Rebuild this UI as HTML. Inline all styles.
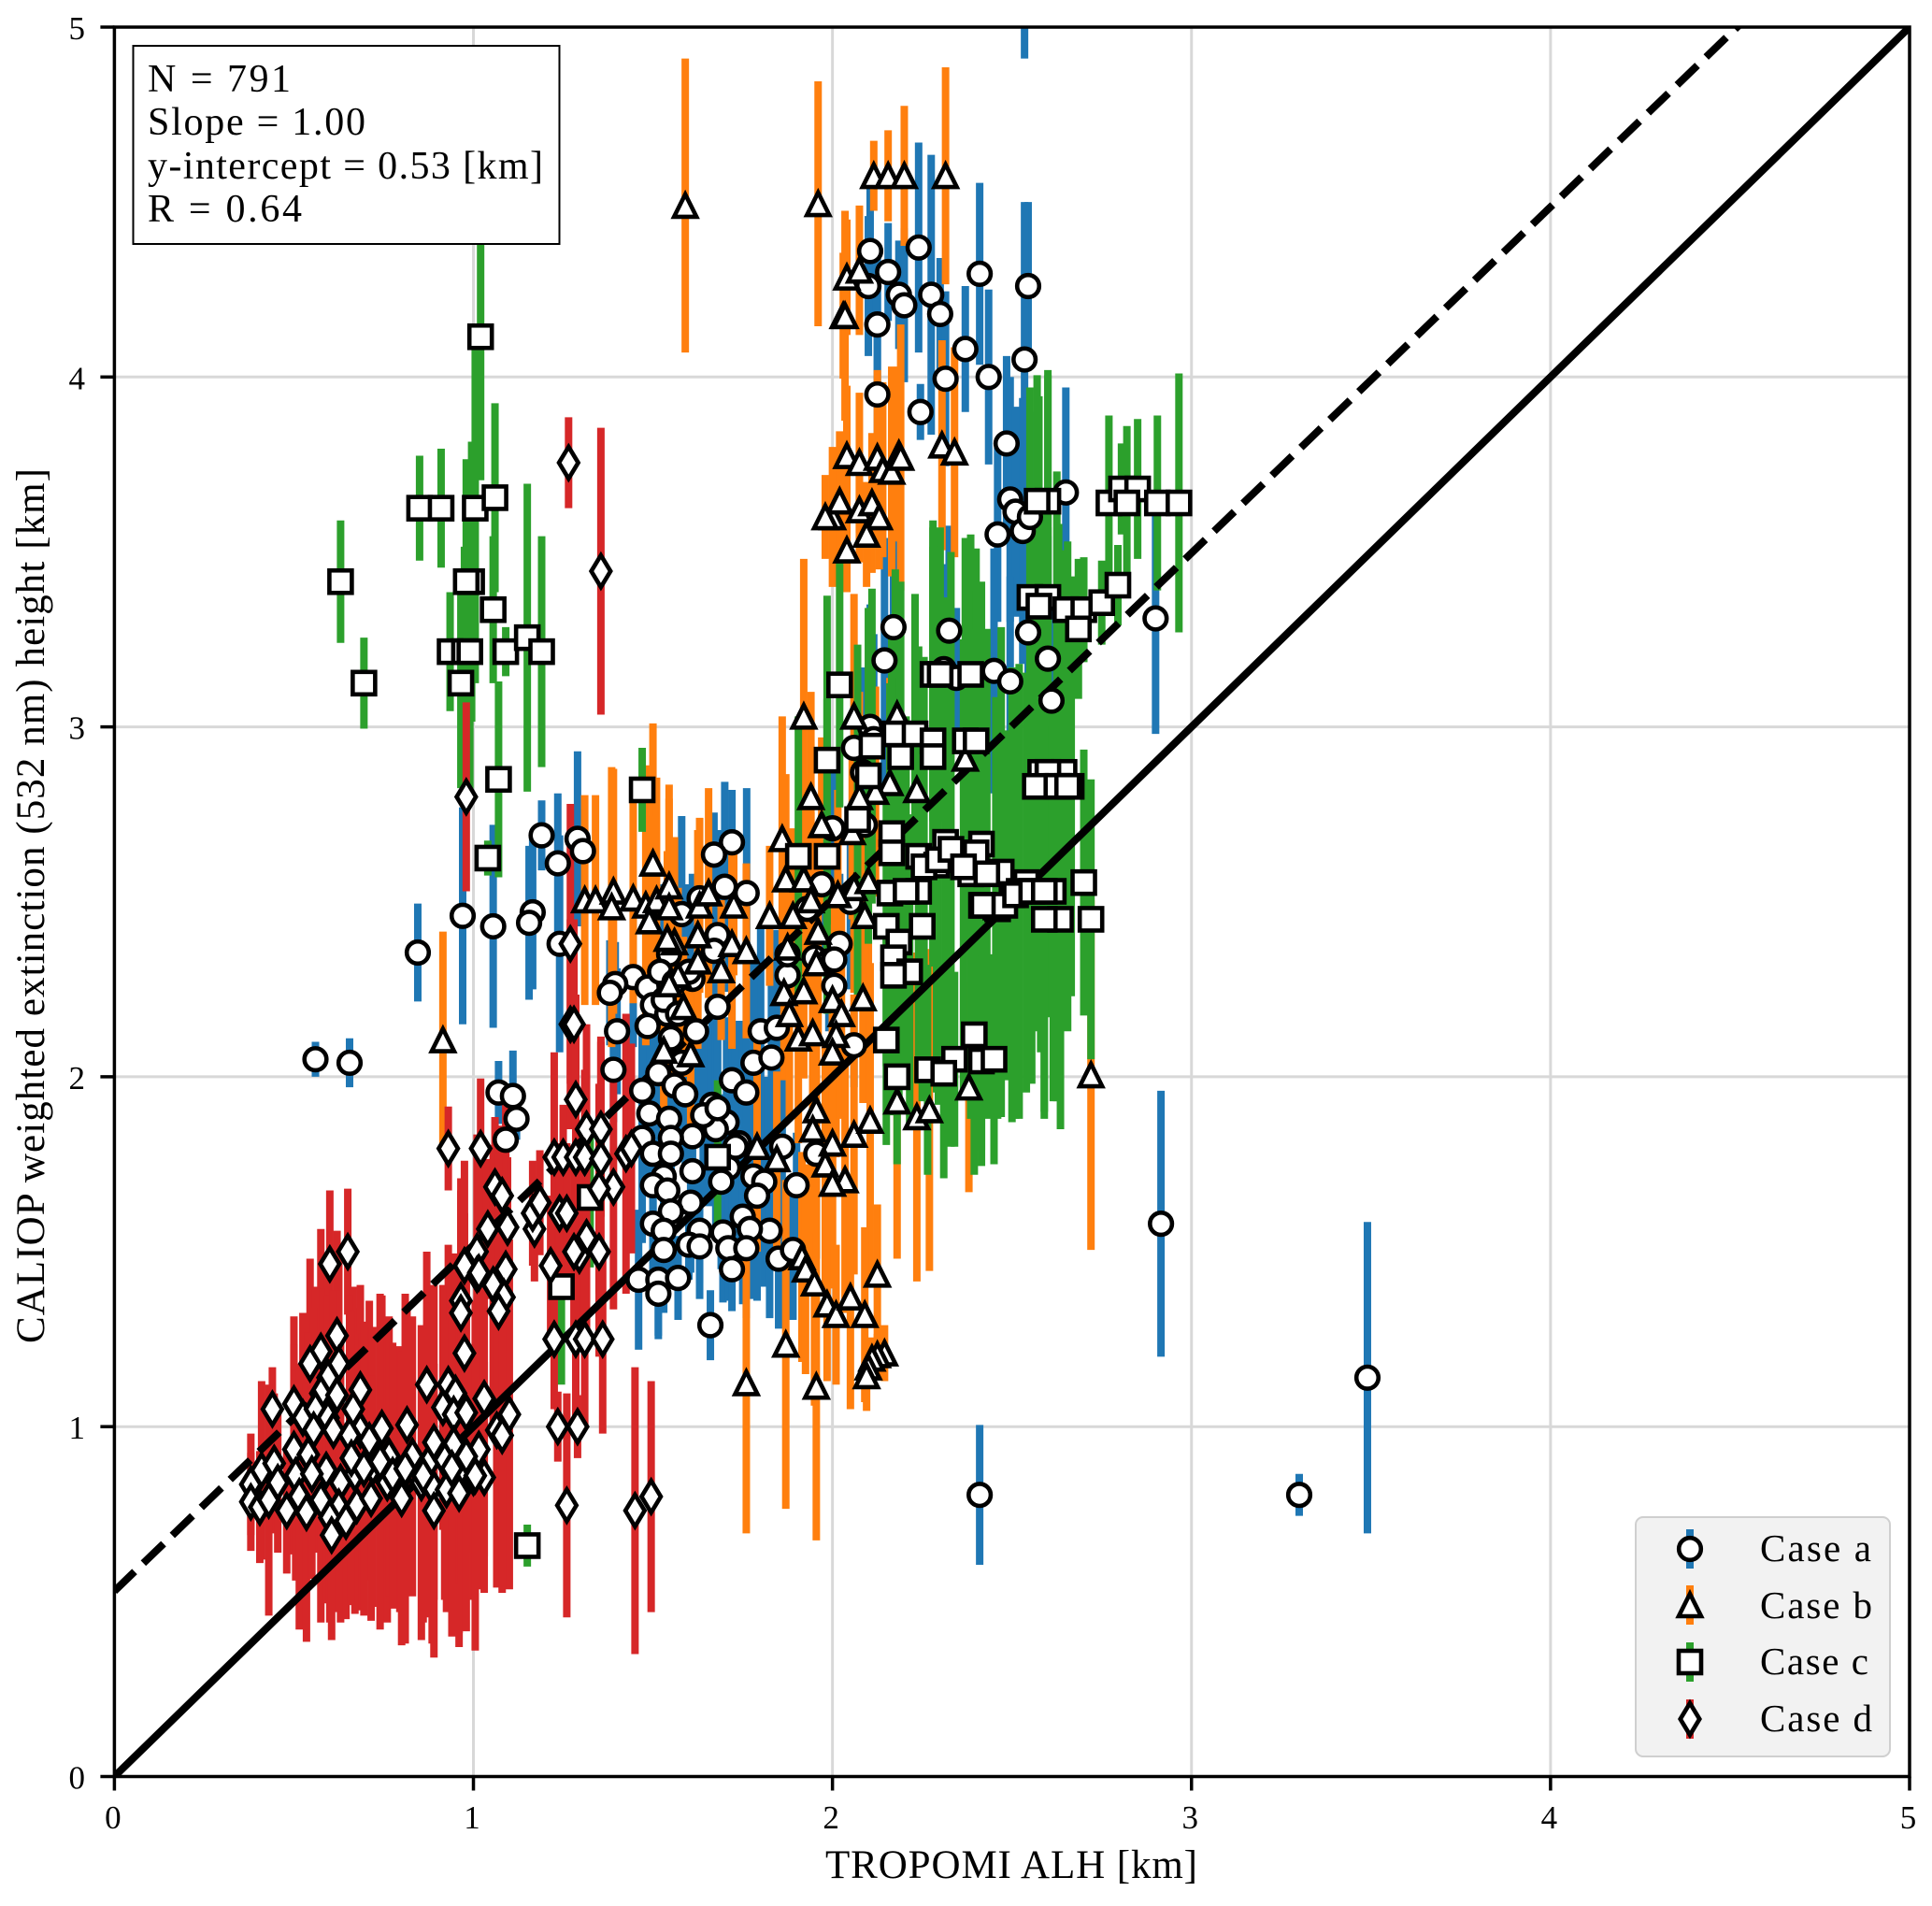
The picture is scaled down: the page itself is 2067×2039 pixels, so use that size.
<!DOCTYPE html>
<html lang="en">
<head>
<meta charset="utf-8">
<title>CALIOP vs TROPOMI ALH scatter</title>
<style>
html,body{margin:0;padding:0;background:#fff;}
svg{display:block;}
text{font-family:"Liberation Serif",serif;fill:#000;}
</style>
</head>
<body>
<svg id="chart" xmlns="http://www.w3.org/2000/svg" width="2067" height="2039" viewBox="0 0 2067 2039">
  <defs><clipPath id="plot-clip"><rect x="122.4" y="29" width="1920.6" height="1871.5"/></clipPath></defs>
  <rect x="0" y="0" width="2067" height="2039" fill="#fff"/>
  <g id="grid"></g>
  <g id="bars" clip-path="url(#plot-clip)"></g>
  <g id="lines" clip-path="url(#plot-clip)"></g>
  <g id="markers" clip-path="url(#plot-clip)"></g>
  <g id="axes"></g>
  <text x="1082" y="2009" font-size="43" text-anchor="middle" textLength="398" lengthAdjust="spacing">TROPOMI ALH [km]</text>
  <text transform="translate(47,969) rotate(-90)" font-size="43" text-anchor="middle" textLength="936" lengthAdjust="spacing">CALIOP weighted extinction (532 nm) height [km]</text>
  <g>
    <rect x="142.5" y="49" width="456" height="212" fill="#fff" stroke="#000" stroke-width="2"/>
    <text x="158" y="98" font-size="42" textLength="153" lengthAdjust="spacing">N = 791</text>
    <text x="158" y="144" font-size="42" textLength="233" lengthAdjust="spacing">Slope = 1.00</text>
    <text x="158" y="191" font-size="42" textLength="423" lengthAdjust="spacing">y-intercept = 0.53 [km]</text>
    <text x="158" y="237" font-size="42" textLength="165" lengthAdjust="spacing">R = 0.64</text>
  </g>
  <g>
    <rect x="1750" y="1623" width="272" height="256" rx="8" ry="8" fill="#f2f2f2" stroke="#cfcfcf" stroke-width="2"/>
    <g id="legend-keys"></g>
    <text x="1883" y="1670" font-size="41" textLength="119" lengthAdjust="spacing">Case a</text>
    <text x="1883" y="1731" font-size="41" textLength="120" lengthAdjust="spacing">Case b</text>
    <text x="1883" y="1791" font-size="41" textLength="116" lengthAdjust="spacing">Case c</text>
    <text x="1883" y="1852" font-size="41" textLength="120" lengthAdjust="spacing">Case d</text>
  </g>
</svg>
<script>
const xTickLabels = [0, 1, 2, 3, 4, 5];
const yTickLabels = [0, 1, 2, 3, 4, 5];
const fitSlope = 0.989;
const fitIntercept = 0.53;
const identityEnds = [0, 5];

const caseAX = [
  .56,.655,.845,.97,1.055,1.165,1.155,1.19,1.235,1.24,
  1.29,1.305,1.07,1.11,1.12,1.09,1.66,2.915,3.49,3.30,
  2.41,2.535,2.105,2.24,2.10,2.155,2.185,2.20,2.125,2.275,
  2.30,2.41,2.315,2.37,2.435,2.545,2.535,2.125,2.245,2.485,
  2.65,2.495,2.51,2.53,2.46,2.55,2.17,2.145,2.325,2.31,
  2.345,2.45,2.495,2.60,2.61,2.545,2.90,2.105,2.115,2.06,
  2.085,2.09,2.0,1.97,2.05,1.93,2.02,1.95,1.99,2.06,
  1.72,1.67,1.761,1.70,1.63,1.68,1.67,1.58,1.545,1.61,
  1.445,1.395,1.38,1.485,1.50,1.485,1.54,1.40,1.62,1.68,
  1.39,1.58,1.515,1.47,1.56,1.59,1.49,1.545,1.665,1.655,
  1.705,1.61,1.675,1.55,1.47,1.50,1.61,1.55,1.74,1.71,
  1.69,1.78,1.81,1.79,1.53,1.50,1.54,1.605,1.75,1.55,
  1.50,1.53,1.63,1.695,1.825,1.77,1.60,1.63,1.53,1.71,
  1.76,1.85,1.89,1.72,1.46,1.515,1.57,1.515,1.80,1.845,
  1.78,1.83,1.72,1.76,1.90,1.86,1.955,1.875,2.005,2.005,
  1.875,1.52,1.56,1.60,1.53,1.57,1.55,1.64,1.68,1.73
];
const caseAY = [
  2.05,2.04,2.355,2.46,2.43,2.47,2.44,2.69,2.61,2.38,
  2.68,2.645,1.955,1.945,1.88,1.82,1.29,1.58,1.14,.805,
  .805,5.3,4.36,4.37,4.26,4.30,4.235,4.205,4.15,4.235,
  4.18,4.295,3.995,4.08,4.0,4.26,4.05,3.95,3.90,3.81,
  3.67,3.65,3.615,3.56,3.55,3.6,3.285,3.19,3.275,3.165,
  3.14,3.16,3.13,3.195,3.075,3.27,3.31,3.0,2.965,2.94,
  2.87,2.72,2.71,2.55,2.5,2.48,2.38,2.34,2.33,2.09,
  2.67,2.635,2.525,2.543,2.51,2.405,2.36,2.465,2.35,2.28,
  2.285,2.265,2.24,2.255,2.205,2.145,2.18,2.13,2.13,2.20,
  2.02,2.04,2.01,1.96,1.975,1.95,1.895,1.88,1.92,1.88,
  1.87,1.83,1.85,1.825,1.825,1.78,1.73,1.78,1.81,1.74,
  1.70,1.715,1.70,1.66,1.715,1.69,1.675,1.64,1.60,1.615,
  1.58,1.56,1.56,1.555,1.56,1.565,1.52,1.515,1.505,1.51,
  1.51,1.48,1.505,1.45,1.42,1.42,1.425,1.38,2.13,2.14,
  2.04,2.055,1.99,1.955,1.69,1.80,1.78,2.29,2.26,2.335,
  2.35,2.30,2.27,2.30,2.22,2.18,2.11,1.89,1.91,1.80
];
const caseAErr = [
  .05,.07,.14,.31,.29,.22,.22,.1,.2,.31,
  .25,.12,.09,.13,.06,.1,.1,.38,.445,.06,
  .2,.39,.22,.3,.2,.14,.155,.22,.2,.4,
  .16,.26,.25,.18,.25,.24,.45,.3,.08,.25,
  .3,.35,.3,.38,.25,.3,.25,.35,.3,.3,
  .2,.35,.3,.35,.3,.35,.33,.35,.3,.2,
  .3,.25,.2,.2,.25,.2,.2,.15,.2,.12,
  .15,.12,.3,.3,.15,.3,.25,.28,.25,.3,
  .2,.12,.15,.22,.2,.22,.25,.18,.22,.2,
  .15,.22,.2,.18,.2,.2,.22,.25,.25,.25,
  .3,.25,.3,.2,.3,.2,.25,.25,.35,.25,
  .25,.3,.3,.3,.28,.25,.2,.2,.25,.22,
  .15,.2,.15,.2,.25,.2,.1,.15,.18,.15,
  .2,.2,.2,.12,.2,.17,.12,.12,.3,.28,
  .3,.3,.4,.45,.15,.35,.3,.3,.2,.2,
  .2,.25,.25,.25,.2,.2,.2,.25,.25,.3
];

const caseBX = [
  1.59,1.96,2.115,2.155,2.20,2.315,2.04,2.075,2.03,2.035,
  2.04,2.075,2.125,2.185,2.14,2.305,2.34,2.0,2.02,1.98,
  2.075,2.11,2.13,2.095,2.04,2.165,2.19,1.92,2.06,2.18,
  2.37,2.235,1.94,2.16,2.12,2.075,1.97,2.055,1.86,1.50,
  1.31,1.34,1.39,1.385,1.445,1.48,1.51,1.545,1.545,1.49,
  1.63,1.655,1.725,1.56,1.54,1.625,1.625,1.72,1.76,1.69,
  1.57,1.545,1.585,1.53,1.605,1.825,1.89,1.87,1.92,1.94,
  1.875,1.96,1.955,2.06,2.015,1.865,1.92,1.88,2.0,2.025,
  1.905,1.945,2.01,2.0,2.085,2.10,2.09,1.955,1.945,2.0,
  2.06,2.105,1.98,2.035,2.0,1.79,1.845,2.18,2.235,2.27,
  2.38,2.72,.915,2.125,1.915,1.925,1.95,1.985,2.01,2.05,
  2.09,1.87,1.76,1.955,2.145,2.125,2.11,2.10,2.095
];
const caseBY = [
  4.49,4.495,4.575,4.575,4.575,4.575,4.285,4.305,4.175,4.175,
  3.775,3.755,3.77,3.78,3.735,3.805,3.785,3.6,3.645,3.6,
  3.62,3.64,3.6,3.55,3.505,3.73,3.77,3.03,3.03,3.035,
  2.91,2.82,2.80,2.84,2.815,2.80,2.72,2.70,2.68,2.61,
  2.505,2.505,2.53,2.485,2.51,2.49,2.505,2.545,2.485,2.445,
  2.49,2.525,2.49,2.385,2.395,2.405,2.33,2.38,2.36,2.305,
  2.29,2.265,2.20,2.075,2.065,2.46,2.46,2.565,2.565,2.505,
  2.37,2.415,2.325,2.54,2.52,2.24,2.245,2.18,2.22,2.18,
  2.11,2.125,2.12,2.07,2.225,2.56,2.46,1.905,1.85,1.81,
  1.835,1.875,1.75,1.705,1.695,1.80,1.765,1.93,1.885,1.905,
  1.97,2.005,2.105,1.435,1.485,1.45,1.41,1.35,1.32,1.37,
  1.32,1.235,1.125,1.115,1.21,1.205,1.195,1.17,1.145
];
const caseBErr = [
  .42,.35,.10,.13,.2,.31,.165,.185,.18,.3,
  .2,.2,.25,.25,.25,.3,.3,.2,.2,.12,
  .15,.2,.15,.15,.12,.3,.38,.45,.35,.3,
  .3,.2,.3,.3,.3,.3,.25,.25,.35,.4,
  .3,.3,.35,.4,.3,.4,.35,.25,.35,.3,
  .25,.3,.2,.3,.25,.3,.25,.3,.25,.2,
  .25,.3,.2,.25,.2,.2,.25,.3,.3,.25,
  .3,.3,.35,.3,.3,.25,.25,.3,.3,.3,
  .3,.3,.35,.35,.3,.3,.3,.35,.4,.3,
  .4,.45,.35,.38,.3,.3,.25,.45,.47,.46,
  .3,.5,.31,.2,.3,.3,.35,.22,.2,.32,
  .25,.47,.43,.44,.08,.06,.06,.05,.1
];

const caseCX = [
  .63,.695,.85,.91,1.005,.995,.98,1.02,1.06,1.055,
  .935,.975,.99,.965,1.09,1.15,1.19,1.07,1.04,1.47,
  1.245,1.15,1.325,1.68,2.6,2.57,2.77,2.805,2.85,2.82,
  2.905,2.965,2.55,2.6,2.575,2.65,2.70,2.685,2.75,2.795,
  2.02,2.28,2.30,2.385,2.175,2.23,2.28,2.37,2.40,2.19,
  2.28,2.11,1.985,2.10,2.645,2.58,2.60,2.565,2.63,2.665,
  2.07,2.165,2.165,1.905,1.985,2.315,2.415,2.24,2.40,2.29,
  2.385,2.47,2.54,2.615,2.70,2.52,2.16,2.24,2.415,2.455,
  2.635,2.59,2.72,2.46,2.42,2.50,2.25,2.15,2.185,2.17,
  2.215,2.17,2.15,2.395,2.34,2.415,2.45,2.265,2.31,2.18,
  2.205,2.255,2.295,2.33,2.365,2.43,2.48,2.51,2.555,2.59,
  2.625,2.655
];
const caseCY = [
  3.415,3.125,3.625,3.625,3.625,3.415,3.415,4.115,3.655,3.335,
  3.215,3.215,3.215,3.125,3.215,3.255,3.215,2.85,2.625,2.82,
  1.40,.66,1.655,1.77,3.645,3.645,3.64,3.68,3.68,3.64,
  3.64,3.64,3.37,3.37,3.345,3.335,3.335,3.28,3.355,3.405,
  3.12,3.15,3.15,3.15,2.98,2.98,2.96,2.96,2.96,2.915,
  2.915,2.945,2.905,2.86,2.87,2.87,2.87,2.83,2.83,2.83,
  2.735,2.695,2.64,2.63,2.63,2.67,2.665,2.63,2.64,2.605,
  2.58,2.585,2.555,2.53,2.555,2.53,2.525,2.53,2.49,2.485,
  2.45,2.45,2.45,2.48,2.49,2.52,2.43,2.43,2.385,2.34,
  2.30,2.29,2.105,2.12,2.05,2.045,2.05,2.02,2.01,2.0,
  2.53,2.60,2.62,2.65,2.60,2.58,2.49,2.52,2.53,2.53,
  2.83,2.83
];
const caseCErr = [
  .175,.13,.15,.17,.5,.4,.35,.41,.27,.21,
  .17,.3,.4,.3,.07,.44,.33,.28,.05,.12,
  .28,.06,.2,.22,.36,.36,.25,.13,.2,.22,
  .25,.37,.6,.65,.6,.17,.15,.2,.12,.115,
  .35,.42,.42,.4,.47,.4,.63,.58,.55,.5,
  .6,.45,.47,.48,.6,.8,.7,.7,.75,.6,
  .5,.6,.5,.4,.45,.7,.75,.6,.75,.65,
  .7,.7,.6,.6,.38,.65,.6,.55,.7,.6,
  .6,.55,.4,.6,.6,.65,.5,.4,.45,.4,
  .45,.4,.3,.4,.25,.3,.3,.3,.3,.25,
  .5,.6,.7,.85,.65,.7,.5,.64,.55,.65,
  .9,.7
];

const caseDX = [
  1.265,1.355,.98,1.27,1.27,1.28,1.285,.93,1.02,1.225,
  1.315,1.355,1.25,1.285,1.31,1.355,1.39,1.35,1.425,1.44,
  1.06,1.08,1.17,1.165,1.185,1.095,1.04,1.24,1.26,1.315,
  1.35,1.295,1.28,1.215,1.01,1.09,1.01,1.055,1.085,1.07,
  1.225,1.285,1.31,1.36,1.235,1.29,1.26,1.45,1.495,1.03,
  1.10,1.065,1.08,1.015,1.03,1.0,.65,.60,.62,.575,
  .545,.625,.595,.685,.44,.50,.525,.575,.62,.56,
  .665,.555,.595,.61,.685,.50,.54,.71,.655,.745,
  .815,.87,.93,.95,.915,.945,.98,.965,.965,.975,
  .975,1.015,.38,.41,.445,.38,.405,.43,.455,.48,
  .505,.515,.535,.575,.59,.55,.63,.625,.60,.605,
  .645,.675,.67,.72,.715,.66,.76,.795,.80,.765,
  .83,.855,.885,.88,.89,.925,.96,.96,.945,.92,
  .89,.98,1.005,.695,.74,.775,.81,.86,.94
];
const caseDY = [
  3.755,3.445,2.80,2.38,2.15,2.15,1.935,1.795,1.795,1.77,
  1.85,1.85,1.77,1.77,1.77,1.765,1.685,1.68,1.78,1.795,
  1.685,1.66,1.565,1.61,1.64,1.57,1.565,1.61,1.61,1.54,
  1.50,1.49,1.50,1.46,1.50,1.45,1.435,1.405,1.37,1.33,
  1.25,1.25,1.25,1.25,1.0,1.0,.775,.76,.80,1.08,
  1.035,.99,.975,.935,.855,.855,1.50,1.465,1.26,1.215,
  1.18,1.18,1.14,1.105,1.05,1.065,1.025,1.095,1.09,1.05,
  1.05,.99,1.025,.99,.99,.935,.92,.96,.975,.995,
  1.005,1.12,1.12,1.095,1.055,1.035,1.04,1.36,1.325,1.21,
  1.46,1.44,.835,.875,.895,.785,.77,.79,.84,.76,
  .86,.80,.755,.79,.875,.865,.84,.77,.74,.69,
  .73,.775,.865,.885,.795,.91,.84,.85,.795,.915,
  .915,.84,.83,.905,.76,.82,.87,.81,.95,.905,
  .955,.915,.86,.88,.90,.86,.88,.86,.88
];
const caseDErr = [
  .13,.41,.27,.4,.3,.3,.3,.12,.2,.3,
  .3,.25,.15,.2,.25,.35,.35,.3,.4,.3,
  .2,.2,.15,.15,.15,.2,.2,.2,.2,.3,
  .3,.25,.25,.2,.3,.5,.4,.4,.45,.45,
  .2,.25,.25,.27,.1,.09,.32,.41,.33,.45,
  .5,.45,.45,.4,.33,.35,.18,.21,.3,.35,
  .3,.3,.35,.3,.12,.25,.3,.3,.3,.35,
  .35,.35,.35,.4,.35,.3,.35,.4,.4,.38,
  .35,.38,.4,.4,.35,.35,.4,.35,.35,.4,
  .3,.35,.145,.255,.2,.14,.16,.33,.2,.18,
  .3,.38,.37,.35,.38,.3,.4,.3,.3,.3,
  .28,.3,.4,.4,.35,.42,.4,.38,.42,.4,
  .4,.45,.45,.45,.42,.35,.5,.4,.4,.4,
  .45,.5,.5,.42,.48,.38,.5,.42,.48
];

const svgNS = 'http://www.w3.org/2000/svg';
function xAxis(v) { return 122.4 + v * 384.12; }
function yAxis(v) { return 1900.5 - v * 374.3; }
function make(tag, attrs, parent) {
  const el = document.createElementNS(svgNS, tag);
  for (const k in attrs) el.setAttribute(k, attrs[k]);
  parent.appendChild(el);
  return el;
}
const gridG = document.getElementById('grid');
const barsG = document.getElementById('bars');
const linesG = document.getElementById('lines');
const markersG = document.getElementById('markers');
const axesG = document.getElementById('axes');
const legendG = document.getElementById('legend-keys');

xTickLabels.forEach(function (t) {
  const px = xAxis(t);
  const g = make('line', {x1: px, x2: px, y1: yAxis(0), y2: yAxis(5), stroke: '#d8d8d8', 'stroke-width': 3}, gridG);
  
  
  const tick = make('line', {x1: px, x2: px, y1: yAxis(0), y2: yAxis(0) + 15, stroke: '#000', 'stroke-width': 3.5}, axesG);
  
  
  const label = make('text', {x: px - 1.5, y: 1956, 'font-size': 35, 'text-anchor': 'middle'}, axesG);
  
  
  label.textContent = String(t);
});
yTickLabels.forEach(function (t) {
  const py = yAxis(t);
  const g = make('line', {x1: xAxis(0), x2: xAxis(5), y1: py, y2: py, stroke: '#d8d8d8', 'stroke-width': 3}, gridG);
  
  
  const tick = make('line', {x1: xAxis(0) - 15, x2: xAxis(0), y1: py, y2: py, stroke: '#000', 'stroke-width': 3.5}, axesG);
  
  
  const label = make('text', {x: 91, y: py + 13, 'font-size': 35, 'text-anchor': 'end'}, axesG);
  
  
  label.textContent = String(t);
});
const spine = make('rect', {x: xAxis(0), y: yAxis(5), width: xAxis(5) - xAxis(0), height: yAxis(0) - yAxis(5), fill: 'none', stroke: '#000', 'stroke-width': 3.5}, axesG);



function drawBars(xs, ys, errs, color, name) {
  xs.forEach(function (x, i) {
    const b = make('line', {x1: xAxis(x), x2: xAxis(x), y1: yAxis(ys[i] - errs[i]), y2: yAxis(ys[i] + errs[i]), stroke: color, 'stroke-width': 8}, barsG);
    
    
  });
}
function shapeAt(kind, px, py, parent) {
  const style = {fill: '#fff', stroke: '#000', 'stroke-width': 4.6, 'stroke-linejoin': 'miter', 'stroke-miterlimit': 10};
  let el;
  if (kind === 'circle') {
    el = make('circle', Object.assign({cx: px, cy: py, r: 11.8}, style), parent);
  } else if (kind === 'triangle') {
    el = make('polygon', Object.assign({points: px + ',' + (py - 12) + ' ' + (px - 12) + ',' + (py + 12) + ' ' + (px + 12) + ',' + (py + 12)}, style), parent);
  } else if (kind === 'square') {
    el = make('rect', Object.assign({x: px - 12, y: py - 12, width: 24, height: 24}, style), parent);
  } else {
    el = make('polygon', Object.assign({points: px + ',' + (py - 17) + ' ' + (px + 10.3) + ',' + py + ' ' + px + ',' + (py + 17) + ' ' + (px - 10.3) + ',' + py}, style), parent);
  }
  return el;
}
function drawMarkers(xs, ys, kind, name) {
  xs.forEach(function (x, i) {
    const m = shapeAt(kind, xAxis(x), yAxis(ys[i]), markersG);
    
    
  });
}

drawBars(caseAX, caseAY, caseAErr, '#1f77b4', 'case-a-error-bar');
drawBars(caseBX, caseBY, caseBErr, '#ff7f0e', 'case-b-error-bar');
drawBars(caseCX, caseCY, caseCErr, '#2ca02c', 'case-c-error-bar');
drawBars(caseDX, caseDY, caseDErr, '#d62728', 'case-d-error-bar');

const fitLine = make('line', {x1: xAxis(0), y1: yAxis(fitIntercept), x2: xAxis(5), y2: yAxis(fitSlope * 5 + fitIntercept), stroke: '#000', 'stroke-width': 8, 'stroke-dasharray': '30 13'}, linesG);


const identityLine = make('line', {x1: xAxis(identityEnds[0]), y1: yAxis(identityEnds[0]), x2: xAxis(identityEnds[1]), y2: yAxis(identityEnds[1]), stroke: '#000', 'stroke-width': 8}, linesG);



drawMarkers(caseAX, caseAY, 'circle', 'case-a-point');
drawMarkers(caseBX, caseBY, 'triangle', 'case-b-point');
drawMarkers(caseCX, caseCY, 'square', 'case-c-point');
drawMarkers(caseDX, caseDY, 'diamond', 'case-d-point');

function legendKey(py, color, kind, name) {
  const bar = make('line', {x1: 1808, x2: 1808, y1: py - 21, y2: py + 21, stroke: color, 'stroke-width': 8}, legendG);
  
  
  const mark = shapeAt(kind, 1808, py, legendG);
  
  
}
legendKey(1657, '#1f77b4', 'circle', 'legend-case-a');
legendKey(1717, '#ff7f0e', 'triangle', 'legend-case-b');
legendKey(1778, '#2ca02c', 'square', 'legend-case-c');
legendKey(1839, '#d62728', 'diamond', 'legend-case-d');
</script>
</body>
</html>
